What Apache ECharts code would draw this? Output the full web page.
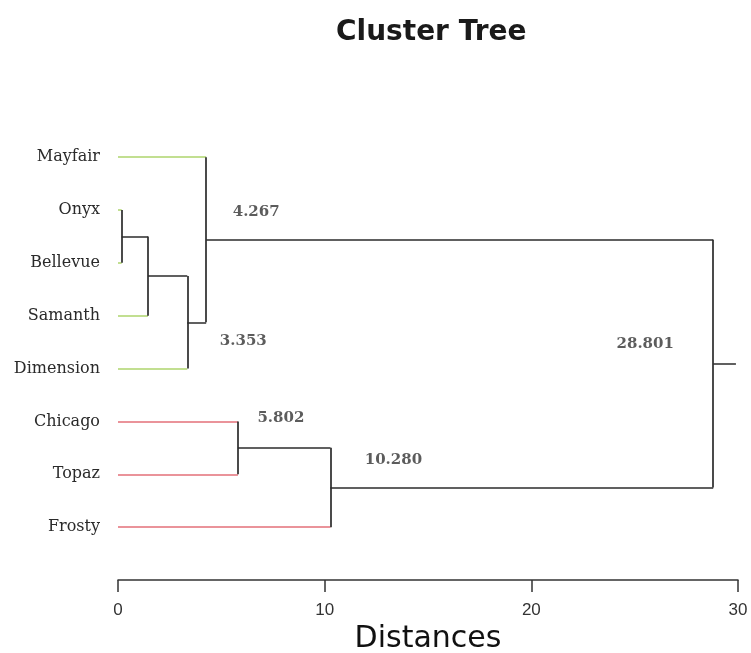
<!DOCTYPE html>
<html>
<head>
<meta charset="utf-8">
<script src="https://cdn.jsdelivr.net/npm/echarts@6/dist/echarts.min.js"></script>
<style>
html,body{margin:0;padding:0;background:#fff;overflow:hidden;}
#chart{width:751px;height:653px;}
</style>
</head>
<body>
<div id="chart"></div>
<script>
// ---- data ----
const leaves = ['Mayfair', 'Onyx', 'Bellevue', 'Samanth', 'Dimension', 'Chicago', 'Topaz', 'Frosty'];
const leafCluster = [1, 1, 1, 1, 1, 2, 2, 2];
const mergeLeft   = ['Onyx', 'M1', 'M2', 'Mayfair', 'Chicago', 'M5', 'M4'];
const mergeRight  = ['Bellevue', 'Samanth', 'Dimension', 'M3', 'Topaz', 'Frosty', 'M6'];
const mergeHeight = [0.18, 1.45, 3.353, 4.267, 5.802, 10.280, 28.801];
const mergeLabels = ['', '', '3.353', '4.267', '5.802', '10.280', '28.801'];
const rootEnd = 29.9;
const xTicks = [0, 10, 20, 30];

// ---- build segments ----
const clusterColor = {1: '#aed46c', 2: '#e36f78'};
const dark = '#2b2b2b';
const nodes = {};
leaves.forEach((n, i) => { nodes[n] = {h: 0, y: i, leaf: true, idx: i}; });
const segs = [];
const labelPts = [];
mergeHeight.forEach((h, k) => {
  const a = nodes[mergeLeft[k]], b = nodes[mergeRight[k]];
  [a, b].forEach(c => {
    segs.push({coords: [[c.h, c.y], [h, c.y]], lineStyle: {color: c.leaf ? clusterColor[leafCluster[c.idx]] : dark}});
  });
  segs.push({coords: [[h, a.y], [h, b.y]], lineStyle: {color: dark}});
  const y = (a.y + b.y) / 2;
  nodes['M' + (k + 1)] = {h: h, y: y, leaf: false};
  labelPts.push({value: [h, y], name: mergeLabels[k], k: k});
});
const root = nodes['M' + mergeHeight.length];
segs.push({coords: [[root.h, root.y], [rootEnd, root.y]], lineStyle: {color: dark}});

const labelOffsets = {2: [56, 19], 3: [50, -28], 4: [43, -30], 5: [43, -30], 6: [-68, -20]};
labelOffsets[5] = [63, -27];

const chart = echarts.init(document.getElementById('chart'), null, {width: 751, height: 653});
chart.setOption({
  animation: false,
  backgroundColor: '#fff',
  title: {
    text: 'Cluster Tree', left: 331, top: 14,
    textStyle: {fontFamily: 'DejaVu Sans', fontWeight: 'bold', fontSize: 28, color: '#1a1a1a'}
  },
  grid: {left: 118, right: 13, top: 104.3, height: 475.7, containLabel: false, outerBoundsMode: 'none'},
  xAxis: {
    type: 'value', min: xTicks[0], max: xTicks[xTicks.length - 1], interval: 10,
    position: 'bottom',
    axisLine: {show: true, onZero: false, lineStyle: {color: '#333', width: 1.5}},
    axisTick: {show: true, length: 12, lineStyle: {color: '#333', width: 1.5}},
    axisLabel: {margin: 22, fontFamily: 'Liberation Sans', fontSize: 17, color: '#333'},
    splitLine: {show: false},
    name: 'Distances', nameLocation: 'middle', nameGap: 42,
    nameTextStyle: {fontFamily: 'DejaVu Sans', fontSize: 30, color: '#111'}
  },
  yAxis: {
    type: 'value', inverse: true, min: -1, max: 8, interval: 1,
    axisLine: {show: false}, axisTick: {show: false}, splitLine: {show: false},
    axisLabel: {
      margin: 18, fontFamily: 'DejaVu Serif', fontSize: 16, color: '#2a2a2a',
      formatter: v => (v >= 0 && v < leaves.length && Number.isInteger(v)) ? leaves[v] : ''
    }
  },
  series: [
    {
      type: 'lines', coordinateSystem: 'cartesian2d', polyline: false,
      lineStyle: {width: 1.7, opacity: 1},
      data: segs, silent: true, z: 2
    },
    {
      type: 'scatter', symbolSize: 0, silent: true, z: 3,
      data: labelPts.filter(p => p.name).map(p => ({
        value: p.value,
        label: {
          show: true, formatter: p.name, position: 'inside',
          offset: labelOffsets[p.k] || [0, 0],
          fontFamily: 'DejaVu Serif', fontWeight: 'bold', fontSize: 15, color: '#333'
        }
      }))
    }
  ]
});
</script>
</body>
</html>
